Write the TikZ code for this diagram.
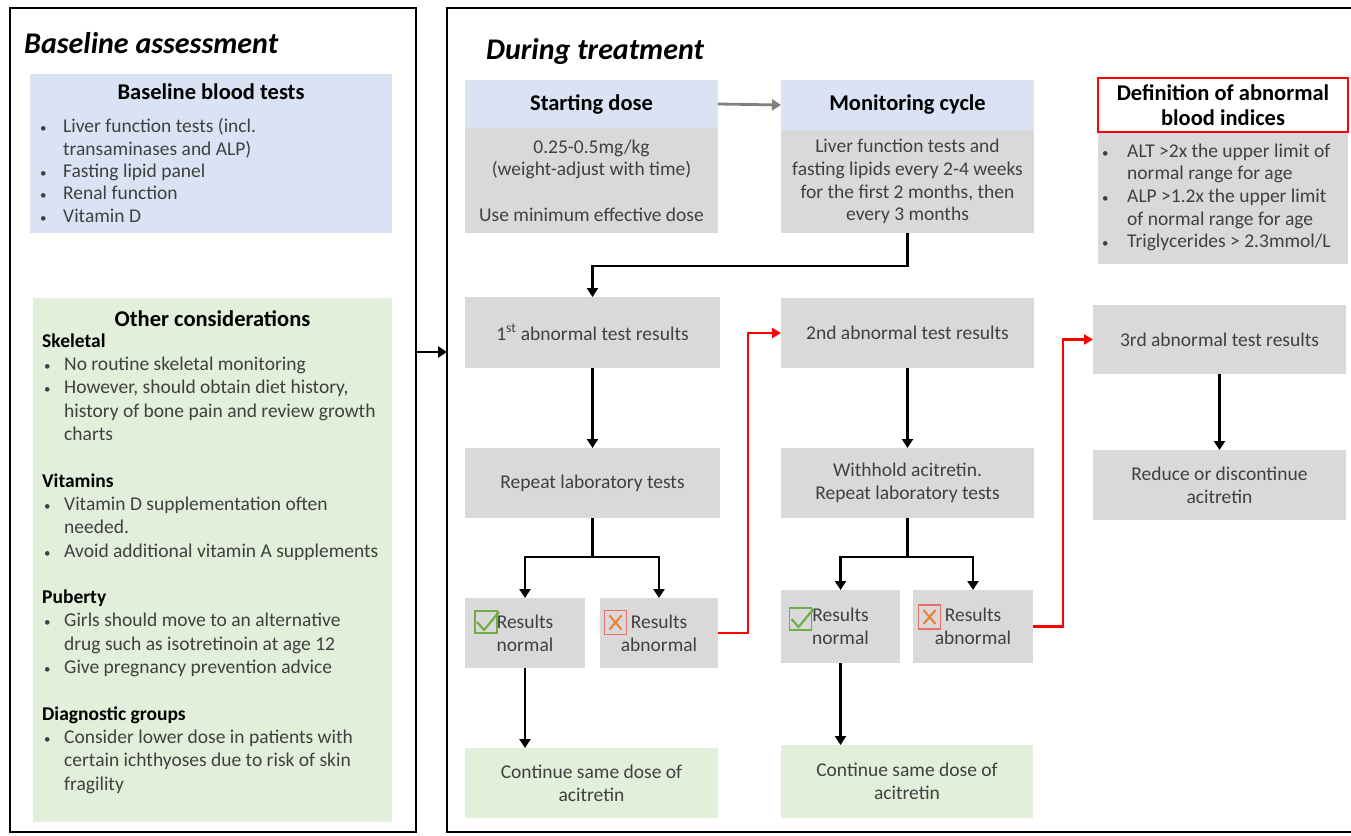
\documentclass[tikz,border=0pt]{standalone}
\usepackage{fontspec}
\setmainfont{Carlito}
\usetikzlibrary{arrows.meta}
\definecolor{boxgray}{HTML}{D9D9D9}
\definecolor{hdrblue}{HTML}{DAE3F3}
\definecolor{lgreen}{HTML}{E2EFDA}
\definecolor{txtgray}{HTML}{404040}
\definecolor{chkgreen}{HTML}{70AD47}
\definecolor{xorange}{HTML}{ED7D31}
\definecolor{xred}{HTML}{E8706A}
\definecolor{arrgray}{HTML}{808080}
\newcommand\bodyfont{\fontsize{19.5}{22.6}\selectfont}
\newcommand\greenfont{\fontsize{19.5}{23.3}\selectfont}
\newcommand\bluefont{\fontsize{19.5}{22.3}\selectfont}
\newcommand\headfont{\fontsize{22.5}{25}\selectfont\bfseries}
\newcommand\bigtitle{\fontsize{30}{36}\selectfont\bfseries\itshape}
\newcommand\bl[1][22pt]{\makebox[#1][l]{\hspace*{2pt}{\fontsize{13}{13}\selectfont •}}}
\newcommand\ind[1][22pt]{\hspace*{#1}}
\tikzset{
  frame/.style={draw=black, line width=2.5pt, inner sep=0pt, outer sep=0pt},
  gbox/.style={fill=boxgray, text=txtgray, font=\bodyfont, align=center, inner sep=0pt, outer sep=0pt},
  hdr/.style={fill=hdrblue, text=black, font=\headfont, align=center, inner sep=0pt, outer sep=0pt},
  grbox/.style={fill=lgreen, text=txtgray, font=\bodyfont, align=center, inner sep=0pt, outer sep=0pt},
  defhdr/.style={fill=white, draw=red, line width=1.5pt, text=black, font=\headfont, align=center, inner sep=0pt, outer sep=0pt},
  titletext/.style={text=black, font=\headfont, inner sep=0pt},
  bigtitletext/.style={text=black, font=\bigtitle, inner sep=0pt, anchor=base west},
  listtext/.style={text=txtgray, align=left, inner sep=0pt, anchor=north west},
  arr/.style={draw=black, line width=2.8pt, -{Triangle[length=9pt,width=11pt]}},
  redarr/.style={draw=red, line width=2.6pt, -{Triangle[length=9pt,width=10pt]}},
  grayarr/.style={draw=arrgray, line width=2.8pt, -{Triangle[length=9pt,width=11pt]}},
  chk/.pic={
    \draw[chkgreen, line width=1.2pt] (-11,-11) rectangle (11,11);
    \draw[chkgreen, line width=2.2pt, line join=round] (-9,0) -- (-2,8) -- (13,-10);
  },
  xmk/.pic={
    \draw[xred, line width=1.2pt] (-11,-12) rectangle (11,12);
    \draw[xorange, line width=2pt] (-6,-7) -- (6,7) (-6,7) -- (6,-7);
  }
}
\begin{document}
\begin{tikzpicture}[x=1pt,y=-1pt]
\useasboundingbox (0,0) rectangle (1351,835);
\clip (0,0) rectangle (1351,835);
\fill[white] (0,0) rectangle (1351,835);

% frames
\node[frame, minimum width=406pt, minimum height=824pt] (leftF) at (213,420) {};
\node[frame, minimum width=915pt, minimum height=824pt] (rightF) at (904.5,420) {};
\coordinate (midy) at (0,352);
\draw[arr] (leftF.east |- midy) -- (rightF.west |- midy);

% left panel
\node[bigtitletext] (ttlA) at (24,53) {Baseline assessment};
\node[fill=hdrblue, minimum width=362pt, minimum height=159pt, inner sep=0pt] (blueB) at (211,153.5) {};
\node[titletext] (bbt) at (211,92) {Baseline blood tests};
\node[listtext, font=\bluefont] (bbl) at (38,118.5) {%
\bl[25pt]Liver function tests (incl.\\
\ind[25pt]transaminases and ALP)\\
\bl[25pt]Fasting lipid panel\\
\bl[25pt]Renal function\\
\bl[25pt]Vitamin D};

\node[fill=lgreen, minimum width=359pt, minimum height=524pt, inner sep=0pt] (greenB) at (212.5,560) {};
\node[titletext] (oct) at (212.5,319) {Other considerations};
\node[listtext, font=\greenfont] (ocl) at (42,333.5) {%
{\color{black}\bfseries Skeletal}\\
\bl No routine skeletal monitoring\\
\bl However, should obtain diet history,\\
\ind history of bone pain and review growth\\
\ind charts\\[23.3pt]
{\color{black}\bfseries Vitamins}\\
\bl Vitamin D supplementation often\\
\ind needed.\\
\bl Avoid additional vitamin A supplements\\[23.3pt]
{\color{black}\bfseries Puberty}\\
\bl Girls should move to an alternative\\
\ind drug such as isotretinoin at age 12\\
\bl Give pregnancy prevention advice\\[23.3pt]
{\color{black}\bfseries Diagnostic groups}\\
\bl Consider lower dose in patients with\\
\ind certain ichthyoses due to risk of skin\\
\ind fragility};

% right panel
\node[bigtitletext] (ttlB) at (486,59) {During treatment};

\node[hdr, minimum width=253pt, minimum height=48pt] (startH) at (591.5,104) {Starting dose};
\node[gbox, minimum width=253pt, minimum height=105pt] (startB) at (591.5,180.5) {0.25-0.5mg/kg\\(weight-adjust with time)\\[22.6pt]Use minimum effective dose};
\node[hdr, minimum width=253pt, minimum height=50pt] (monH) at (907.5,105) {Monitoring cycle};
\node[gbox, minimum width=253pt, minimum height=103pt] (monB) at (907.5,181.5) {Liver function tests and\\fasting lipids every 2-4 weeks\\for the first 2 months, then\\every 3 months};
\draw[grayarr] (startH.east) -- (monH.west);

\node[gbox, minimum width=250pt, minimum height=132pt] (defB) at (1223,198) {};
\node[defhdr, minimum width=250pt, minimum height=54pt] (defH) at (1223,105) {Definition of abnormal\\blood indices};
\node[listtext, anchor=west, font=\bodyfont] (defL) at (1100,197.5) {%
\bl[27pt]ALT >2x the upper limit of\\
\ind[27pt]normal range for age\\
\bl[27pt]ALP >1.2x the upper limit\\
\ind[27pt]of normal range for age\\
\bl[27pt]Triglycerides > 2.3mmol/L};

% column 1
\node[gbox, minimum width=255pt, minimum height=71pt] (ab1) at (592.5,332.5) {1\textsuperscript{st} abnormal test results};
\node[gbox, minimum width=255pt, minimum height=70pt] (rep1) at (592.5,483) {Repeat laboratory tests};
\node[gbox, minimum width=120pt, minimum height=70pt] (n1) at (525,633) {Results\\normal};
\node[gbox, minimum width=118pt, minimum height=70pt] (a1) at (659,633) {Results\\abnormal};
\node[grbox, minimum width=253pt, minimum height=70pt] (c1) at (591.5,783) {Continue same dose of\\acitretin};
\path (n1.center) ++(-39,-11) pic {chk};
\path (a1.center) ++(-43.5,-10.5) pic {xmk};

% column 2
\node[gbox, minimum width=253pt, minimum height=70pt] (ab2) at (907.5,333) {2nd abnormal test results};
\node[gbox, minimum width=253pt, minimum height=70pt] (w2) at (907.5,483) {Withhold acitretin.\\Repeat laboratory tests};
\node[gbox, minimum width=119pt, minimum height=73pt] (n2) at (840.5,626.5) {Results\\normal};
\node[gbox, minimum width=120pt, minimum height=73pt] (a2) at (973,626.5) {Results\\abnormal};
\node[grbox, minimum width=252pt, minimum height=73pt] (c2) at (907,781.5) {Continue same dose of\\acitretin};
\path (n2.center) ++(-40,-7.5) pic {chk};
\path (a2.center) ++(-43.5,-9.5) pic {xmk};

% column 3
\node[gbox, minimum width=253pt, minimum height=69pt] (ab3) at (1219.5,339.5) {3rd abnormal test results};
\node[gbox, minimum width=253pt, minimum height=70pt] (red3) at (1219.5,485) {Reduce or discontinue\\acitretin};

% connectors
\draw[arr] (monB.south) -- ++(0,33) -| (ab1.north);
\draw[arr] (ab1.south) -- (rep1.north);
\coordinate (s1) at (592.5,557);
\draw[arr] (rep1.south) -- (s1) -| (n1.north);
\draw[arr] (s1) -| (a1.north);
\draw[arr] (n1.south) -- (n1.south |- c1.north);
\draw[redarr] (a1.east) -- ++(30,0) |- (ab2.west);

\draw[arr] (ab2.south) -- (w2.north);
\coordinate (s2) at (907.5,557);
\draw[arr] (w2.south) -- (s2) -| (n2.north);
\draw[arr] (s2) -| (a2.north);
\draw[arr] (n2.south) -- (n2.south |- c2.north);
\draw[redarr] (a2.east) -- ++(30,0) |- (ab3.west);

\draw[arr] (ab3.south) -- (red3.north);
\end{tikzpicture}
\end{document}
